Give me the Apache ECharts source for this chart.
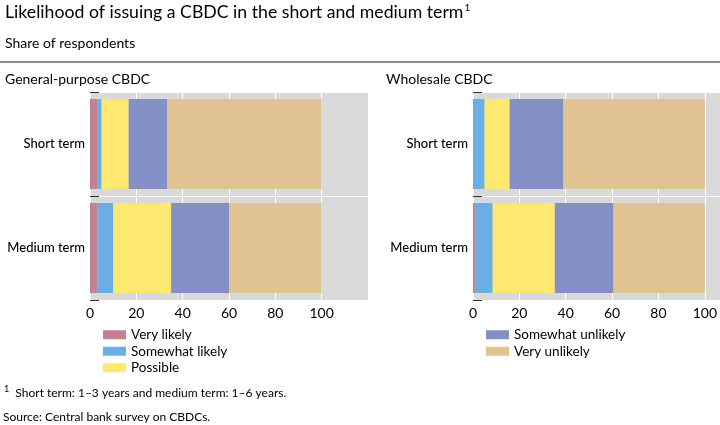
<!DOCTYPE html>
<html>
<head>
<meta charset="utf-8">
<script src="https://cdn.jsdelivr.net/npm/echarts@6/dist/echarts.min.js"></script>
<style>html,body{margin:0;padding:0;background:#fff}#c{width:720px;height:425px}</style>
</head>
<body>
<div id="c"></div>
<script>
const categories = ['Short term', 'Medium term'];
const seriesNames = ['Very likely', 'Somewhat likely', 'Possible', 'Somewhat unlikely', 'Very unlikely'];
const colors = ['#c3808f', '#6aafe3', '#fee970', '#8390c5', '#e1c292'];
// General-purpose CBDC (share of respondents, %)
const generalVeryLikely = [3.3, 3.3];
const generalSomewhatLikely = [1.7, 6.7];
const generalPossible = [11.7, 25.0];
const generalSomewhatUnlikely = [16.7, 25.0];
const generalVeryUnlikely = [66.6, 40.0];
// Wholesale CBDC (share of respondents, %)
const wholesaleVeryLikely = [0, 1.2];
const wholesaleSomewhatLikely = [5.0, 7.3];
const wholesalePossible = [10.8, 26.8];
const wholesaleSomewhatUnlikely = [23.2, 25.3];
const wholesaleVeryUnlikely = [61.0, 39.4];
const xTicks = [0, 20, 40, 60, 80, 100];

const FONT = 'Lato';
const general = [generalVeryLikely, generalSomewhatLikely, generalPossible, generalSomewhatUnlikely, generalVeryUnlikely];
const wholesale = [wholesaleVeryLikely, wholesaleSomewhatLikely, wholesalePossible, wholesaleSomewhatUnlikely, wholesaleVeryUnlikely];

function xAxis(gi, max) {
  return {
    type: 'value', gridIndex: gi, min: 0, max: max, interval: 20,
    axisLine: {show: false}, axisTick: {show: false},
    splitLine: {show: true, lineStyle: {color: '#ffffff', width: 1}},
    axisLabel: {fontFamily: FONT, fontSize: 14, color: '#000', margin: 6, showMaxLabel: false,
      formatter: v => xTicks.indexOf(v) >= 0 ? String(v) : ''}
  };
}
function yAxis(gi) {
  return {
    type: 'category', gridIndex: gi, data: categories, inverse: true,
    axisLine: {show: false},
    axisTick: {show: true, inside: true, length: 9, lineStyle: {color: '#333'}},
    splitLine: {show: true, lineStyle: {color: '#ffffff', width: 1}},
    axisLabel: {fontFamily: FONT, fontSize: 13, color: '#000', margin: 5, fontWeight: 500}
  };
}
const series = [];
[general, wholesale].forEach((set, gi) => {
  set.forEach((vals, i) => {
    series.push({
      type: 'bar', name: seriesNames[i], stack: 's' + gi,
      xAxisIndex: gi, yAxisIndex: gi, data: vals,
      barWidth: 90, itemStyle: {color: colors[i]}, emphasis: {disabled: true}
    });
  });
});

const tt = (size) => ({fontFamily: FONT, fontSize: size, fontWeight: 'normal', color: '#000'});
const chart = echarts.init(document.getElementById('c'), null, {renderer: 'canvas'});
chart.setOption({
  animation: false,
  color: colors,
  title: [
    {text: '{a|Likelihood of issuing a CBDC in the short and medium term}{s|1}', left: 5, top: 3, padding: 0,
      textStyle: {fontWeight: 'normal', rich: {a: tt(17.7), s: Object.assign(tt(10), {padding: [0, 0, 9, 1]})}}},
    {text: 'Share of respondents', left: 5, top: 36, padding: 0, textStyle: tt(14)},
    {text: 'General-purpose CBDC', left: 5, top: 72, padding: 0, textStyle: tt(14)},
    {text: 'Wholesale CBDC', left: 386, top: 72, padding: 0, textStyle: tt(14)},
    {text: '{s|1}{a|  Short term: 1–3 years and medium term: 1–6 years.}', left: 4, top: 385, padding: 0,
      textStyle: {fontWeight: 'normal', rich: {a: tt(12), s: Object.assign(tt(9), {padding: [0, 0, 7, 0]})}}},
    {text: 'Source: Central bank survey on CBDCs.', left: 3, top: 411, padding: 0, textStyle: tt(12)}
  ],
  graphic: [
    {type: 'line', shape: {x1: 0, y1: 62, x2: 720, y2: 62}, style: {stroke: '#8c8c8c', lineWidth: 2}}
  ],
  legend: [
    {data: seriesNames.slice(0, 3), orient: 'vertical', left: 103, top: 327, padding: 0, itemWidth: 23, itemHeight: 9, itemGap: 1,
      icon: 'rect', selectedMode: false, textStyle: {fontFamily: FONT, fontSize: 13.5, color: '#000', lineHeight: 15.5}},
    {data: seriesNames.slice(3), orient: 'vertical', left: 486, top: 327, padding: 0, itemWidth: 23, itemHeight: 9, itemGap: 1,
      icon: 'rect', selectedMode: false, textStyle: {fontFamily: FONT, fontSize: 13.5, color: '#000', lineHeight: 15.5}}
  ],
  grid: [
    {left: 90, top: 92, width: 278, height: 208, show: true, backgroundColor: '#d9d9d9', borderWidth: 0},
    {left: 473, top: 92, right: 0, height: 208, show: true, backgroundColor: '#d9d9d9', borderWidth: 0}
  ],
  xAxis: [xAxis(0, 120), xAxis(1, 106.5)],
  yAxis: [yAxis(0), yAxis(1)],
  series: series
});
</script>
</body>
</html>
